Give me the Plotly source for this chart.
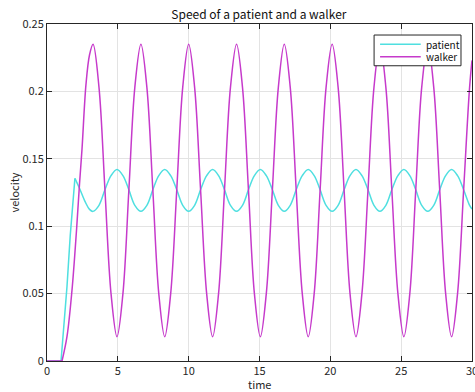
import plotly.graph_objects as go

# ---- data ----
walker_lead_t = [0, 1.06]
walker_lead_v = [0, 0]

walker_t = [1.06, 1.41, 1.76, 2.07, 2.3, 2.47, 2.75, 3.0, 3.25,
            3.67, 4.09, 4.52, 4.94, 5.36, 5.78, 6.2, 6.63,
            7.05, 7.47, 7.89, 8.31, 8.73, 9.16, 9.58, 10.0,
            10.42, 10.84, 11.27, 11.69, 12.11, 12.53, 12.95, 13.38,
            13.8, 14.22, 14.64, 15.06, 15.48, 15.91, 16.33, 16.75,
            17.17, 17.59, 18.02, 18.44, 18.86, 19.28, 19.7, 20.13,
            20.55, 20.97, 21.39, 21.81, 22.23, 22.66, 23.08, 23.5,
            23.92, 24.34, 24.77, 25.19, 25.61, 26.03, 26.45, 26.88,
            27.3, 27.72, 28.14, 28.56, 28.98, 29.41, 29.83, 30.0]
walker_v = [0, 0.018, 0.052, 0.095, 0.132, 0.157, 0.205, 0.227, 0.235,
            0.203, 0.127, 0.050, 0.018, 0.050, 0.127, 0.203, 0.235,
            0.203, 0.127, 0.050, 0.018, 0.050, 0.127, 0.203, 0.235,
            0.203, 0.127, 0.050, 0.018, 0.050, 0.127, 0.203, 0.235,
            0.203, 0.127, 0.050, 0.018, 0.050, 0.127, 0.203, 0.235,
            0.203, 0.127, 0.050, 0.018, 0.050, 0.127, 0.203, 0.235,
            0.203, 0.127, 0.050, 0.018, 0.050, 0.127, 0.203, 0.235,
            0.203, 0.127, 0.050, 0.018, 0.050, 0.127, 0.203, 0.235,
            0.203, 0.127, 0.050, 0.018, 0.050, 0.127, 0.203, 0.223]

patient_rise_t = [0, 0.99, 1.41, 1.64, 1.97]
patient_rise_v = [0, 0, 0.055, 0.093, 0.1355]

patient_t = [1.97, 2.3, 2.7, 3.0, 3.25,
             3.67, 4.09, 4.52, 4.94, 5.36, 5.78, 6.2, 6.63,
             7.05, 7.47, 7.89, 8.31, 8.73, 9.16, 9.58, 10.0,
             10.42, 10.84, 11.27, 11.69, 12.11, 12.53, 12.95, 13.38,
             13.8, 14.22, 14.64, 15.06, 15.48, 15.91, 16.33, 16.75,
             17.17, 17.59, 18.02, 18.44, 18.86, 19.28, 19.7, 20.13,
             20.55, 20.97, 21.39, 21.81, 22.23, 22.66, 23.08, 23.5,
             23.92, 24.34, 24.77, 25.19, 25.61, 26.03, 26.45, 26.88,
             27.3, 27.72, 28.14, 28.56, 28.98, 29.41, 29.83, 30.0]
patient_v = [0.1355, 0.128, 0.118, 0.1125, 0.111,
             0.1155, 0.127, 0.1375, 0.142, 0.1375, 0.127, 0.1155, 0.111,
             0.1155, 0.127, 0.1375, 0.142, 0.1375, 0.127, 0.1155, 0.111,
             0.1155, 0.127, 0.1375, 0.142, 0.1375, 0.127, 0.1155, 0.111,
             0.1155, 0.127, 0.1375, 0.142, 0.1375, 0.127, 0.1155, 0.111,
             0.1155, 0.127, 0.1375, 0.142, 0.1375, 0.127, 0.1155, 0.111,
             0.1155, 0.127, 0.1375, 0.142, 0.1375, 0.127, 0.1155, 0.111,
             0.1155, 0.127, 0.1375, 0.142, 0.1375, 0.127, 0.1155, 0.111,
             0.1155, 0.127, 0.1375, 0.142, 0.1375, 0.127, 0.1155, 0.1127]

x_ticks = [0, 5, 10, 15, 20, 25, 30]
y_ticks = [0, 0.05, 0.1, 0.15, 0.2, 0.25]
y_tick_labels = ["0", "0.05", "0.1", "0.15", "0.2", "0.25"]
series_names = ["patient", "walker"]

PATIENT_COLOR = "#4fdfe0"
WALKER_COLOR = "#c63acb"
AXIS_COLOR = "#262626"
FONT = "Noto Sans CJK JP"

fig = go.Figure()
fig.add_trace(go.Scatter(x=patient_rise_t, y=patient_rise_v, mode="lines",
                         line=dict(color=PATIENT_COLOR, width=1.5),
                         showlegend=False, hoverinfo="skip"))
fig.add_trace(go.Scatter(x=patient_t, y=patient_v, mode="lines", name=series_names[0],
                         line=dict(color=PATIENT_COLOR, width=1.5, shape="spline"),
                         showlegend=False))
fig.add_trace(go.Scatter(x=walker_lead_t, y=walker_lead_v, mode="lines",
                         line=dict(color=WALKER_COLOR, width=1.5),
                         showlegend=False, hoverinfo="skip"))
fig.add_trace(go.Scatter(x=walker_t, y=walker_v, mode="lines", name=series_names[1],
                         line=dict(color=WALKER_COLOR, width=1.5, shape="spline"),
                         showlegend=False))

axis_common = dict(
    showline=True, linecolor=AXIS_COLOR, linewidth=1, mirror="ticks",
    ticks="inside", ticklen=5, tickcolor=AXIS_COLOR, tickwidth=1,
    showgrid=True, gridcolor="#e3e3e3", gridwidth=1, zeroline=False,
    tickfont=dict(family=FONT, size=11, color=AXIS_COLOR),
    ticklabeloverflow="allow",
    automargin=False,
)

# Hand-drawn MATLAB-style legend (compact box in the upper right)
legend_box = dict(x0=0.7696, x1=0.9741, y0=0.8761, y1=0.9673)
legend_rows_y = [0.9397, 0.9029]
legend_line_x = (0.7837, 0.8794)
legend_text_x = 0.8875
shapes = [dict(type="rect", xref="paper", yref="paper", **legend_box,
               line=dict(color=AXIS_COLOR, width=1), fillcolor="white", layer="above")]
annotations = []
for name, color, ly in zip(series_names, [PATIENT_COLOR, WALKER_COLOR], legend_rows_y):
    shapes.append(dict(type="line", xref="paper", yref="paper",
                       x0=legend_line_x[0], x1=legend_line_x[1], y0=ly, y1=ly,
                       line=dict(color=color, width=1.5), layer="above"))
    annotations.append(dict(text=name, xref="paper", yref="paper", x=legend_text_x, y=ly,
                            xanchor="left", yanchor="middle", showarrow=False,
                            font=dict(family=FONT, size=10, color="#111111")))

# axis titles placed as annotations for exact positioning
annotations.append(dict(text="time", xref="paper", yref="paper", x=0.5, y=0,
                        xanchor="center", yanchor="middle", yshift=-23, showarrow=False,
                        font=dict(family=FONT, size=11, color=AXIS_COLOR)))
annotations.append(dict(text="velocity", xref="paper", yref="paper", x=0, y=0.5,
                        xanchor="center", yanchor="middle", xshift=-34, textangle=-90,
                        showarrow=False, font=dict(family=FONT, size=11, color=AXIS_COLOR)))

fig.update_layout(
    width=475, height=392,
    margin=dict(l=47, r=3, t=24, b=31),
    paper_bgcolor="white", plot_bgcolor="white",
    font=dict(family=FONT, size=11, color=AXIS_COLOR),
    title=dict(text="Speed of a patient and a walker", x=0.545, xanchor="center",
               y=0.9617, yanchor="middle",
               font=dict(family=FONT, size=12, color="#111111")),
    xaxis=dict(range=[0, 30], tickvals=x_ticks, **axis_common),
    yaxis=dict(range=[0, 0.25], tickvals=y_ticks, ticktext=y_tick_labels, **axis_common),
    shapes=shapes,
    annotations=annotations,
    showlegend=False,
)

# remove the default page margin so the figure fills the window exactly
fig.write_html("out.html",
               config={"displayModeBar": False},
               post_script="document.body.style.margin='0';document.body.style.overflow='hidden';")
